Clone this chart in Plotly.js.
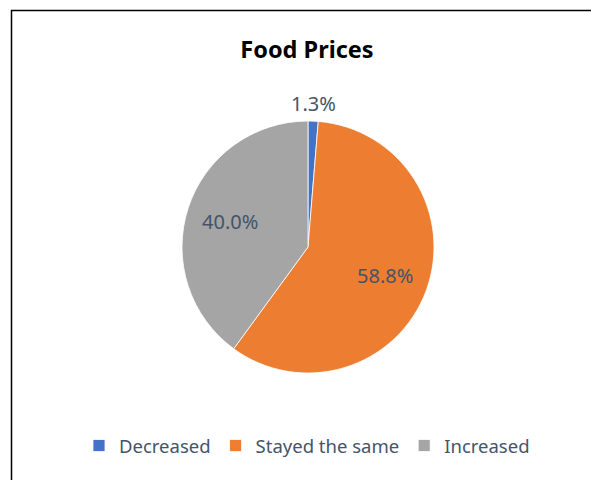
<!DOCTYPE html>
<html>
<head>
<meta charset="utf-8">
<script src="https://cdn.plot.ly/plotly-3.0.1.min.js"></script>
<style>html,body{margin:0;padding:0;background:#fff;}#chart{width:591px;height:480px;}</style>
</head>
<body>
<div id="chart"></div>
<script>
const categories = ["Decreased", "Stayed the same", "Increased"];
const values = [1.3, 58.8, 40.0];
const colors = ["#4472c4", "#ed7d31", "#a5a5a5"];
const labelInside = [false, true, true];

const W = 591, H = 480;
const domX = [182 / W, 434 / W], domY = [1 - 373 / H, 1 - 121 / H];
const labelFont = {family: "Noto Sans, sans-serif", size: 20, color: "#44546a"};

const trace = {
  type: "pie",
  labels: categories,
  values: values,
  sort: false,
  direction: "clockwise",
  rotation: 0,
  marker: {colors: colors, line: {color: "#ffffff", width: 0.8}},
  textinfo: "none",
  hoverinfo: "label+value",
  domain: {x: domX, y: domY},
  showlegend: true
};

// data labels placed at each slice's mid-angle (computed from the values)
const total = values.reduce((a, b) => a + b, 0);
const cx = (domX[0] + domX[1]) / 2, cy = (domY[0] + domY[1]) / 2;
const rPx = (domX[1] - domX[0]) * W / 2;
let cum = 0;
const annotations = values.map((v, i) => {
  const mid = (cum + v / 2) / total * 2 * Math.PI;
  cum += v;
  const k = labelInside[i] ? 0.655 : 1.14;
  const dx = Math.sin(mid) * rPx * k, dy = Math.cos(mid) * rPx * k;
  return {
    xref: "paper", yref: "paper",
    x: cx + dx / W, y: cy + dy / H,
    xanchor: "center", yanchor: "middle",
    text: v.toFixed(1) + "%",
    showarrow: false,
    font: labelFont
  };
});

const layout = {
  width: W, height: H,
  margin: {l: 0, r: 0, t: 0, b: 0},
  paper_bgcolor: "#ffffff",
  plot_bgcolor: "#ffffff",
  title: {
    text: "<b>Food Prices</b>",
    x: 307 / W, xanchor: "center",
    y: 1 - 50 / H, yanchor: "middle",
    font: {family: "Noto Sans, sans-serif", size: 23.5, color: "#000000"}
  },
  legend: {
    orientation: "h",
    x: 307 / W, xanchor: "center",
    y: 1 - 446 / H, yanchor: "middle",
    font: {family: "Noto Sans, sans-serif", size: 18.5, color: "#44546a"},
    itemwidth: 30
  },
  annotations: annotations,
  shapes: [{
    type: "path",
    xref: "paper", yref: "paper",
    path: "M " + (11.5 / W) + " 0 L " + (11.5 / W) + " " + (1 - 10.5 / H) + " L 1.05 " + (1 - 10.5 / H),
    line: {color: "#000000", width: 1.5}
  }]
};

Plotly.newPlot("chart", [trace], layout, {displayModeBar: false, staticPlot: true});
</script>
</body>
</html>
